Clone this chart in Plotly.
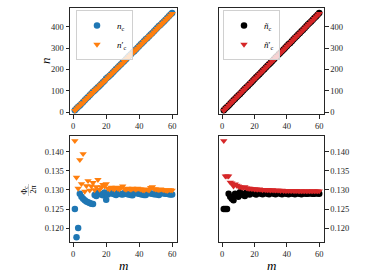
import plotly.graph_objects as go

m = list(range(1, 61))

# n_c and n'_c (left column)
n_c = [8, 17, 25, 31, 39, 47, 55, 63, 71, 79, 87, 95, 101, 109, 116, 124, 132, 140, 147, 157,
       163, 170, 178, 186, 194, 202, 209, 217, 225, 233, 240, 248, 256, 264, 272, 280, 286, 294, 302, 310,
       318, 326, 334, 342, 348, 356, 364, 372, 380, 388, 396, 404, 410, 418, 426, 434, 442, 450, 458, 466]
n_c_p = [7, 15, 23, 29, 38, 43, 54, 61, 68, 77, 84, 91, 100, 107, 113, 123, 130, 137, 145, 152,
         161, 169, 176, 184, 192, 199, 207, 215, 222, 229, 238, 246, 253, 261, 269, 276, 284, 292, 299, 307,
         315, 323, 331, 338, 346, 354, 360, 367, 376, 384, 392, 400, 407, 415, 423, 431, 439, 446, 454, 462]
phi_c = [0.1250, 0.1176, 0.1200, 0.1290, 0.1282, 0.1277, 0.1273, 0.1270, 0.1268, 0.1266,
         0.1264, 0.1263, 0.1287, 0.1284, 0.1293, 0.1290, 0.1288, 0.1286, 0.1293, 0.1274,
         0.1288, 0.1294, 0.1292, 0.1290, 0.1289, 0.1287, 0.1292, 0.1290, 0.1289, 0.1288,
         0.1292, 0.1290, 0.1289, 0.1288, 0.1287, 0.1286, 0.1294, 0.1293, 0.1291, 0.1290,
         0.1289, 0.1288, 0.1287, 0.1287, 0.1293, 0.1292, 0.1291, 0.1290, 0.1289, 0.1289,
         0.1288, 0.1287, 0.1293, 0.1292, 0.1291, 0.1290, 0.1290, 0.1289, 0.1288, 0.1288]
phi_c_p = [0.1429, 0.1333, 0.1304, 0.1379, 0.1316, 0.1395, 0.1296, 0.1311, 0.1324, 0.1299,
           0.1310, 0.1319, 0.1300, 0.1308, 0.1327, 0.1301, 0.1308, 0.1314, 0.1310, 0.1316,
           0.1304, 0.1302, 0.1307, 0.1304, 0.1302, 0.1307, 0.1304, 0.1302, 0.1306, 0.1310,
           0.1303, 0.1301, 0.1304, 0.1303, 0.1301, 0.1304, 0.1303, 0.1301, 0.1304, 0.1303,
           0.1302, 0.1300, 0.1299, 0.1302, 0.1301, 0.1299, 0.1306, 0.1308, 0.1303, 0.1302,
           0.1301, 0.1300, 0.1302, 0.1301, 0.1300, 0.1299, 0.1298, 0.1300, 0.1300, 0.1299]

# tilde n_c and tilde n'_c (right column)
nt_c = [8, 16, 24, 31, 39, 47, 55, 62, 70, 78, 85, 93, 101, 109, 116, 124, 132, 139, 147, 155,
        163, 170, 178, 186, 194, 201, 209, 217, 225, 232, 240, 248, 256, 263, 271, 279, 287, 294, 302, 310,
        318, 325, 333, 341, 349, 356, 364, 372, 380, 387, 395, 403, 411, 418, 426, 434, 442, 449, 457, 465]
nt_c_p = [7, 15, 22, 30, 38, 46, 53, 61, 69, 76, 84, 92, 100, 107, 115, 123, 130, 138, 146, 154,
          161, 169, 177, 184, 192, 200, 208, 215, 223, 231, 239, 246, 254, 262, 269, 277, 285, 292, 300, 308,
          316, 323, 331, 339, 347, 354, 362, 370, 377, 385, 393, 400, 408, 416, 424, 431, 439, 447, 455, 462]
phit_c = [0.1250, 0.1250, 0.1250, 0.1290, 0.1282, 0.1277, 0.1273, 0.1290, 0.1286, 0.1282,
          0.1294, 0.1290, 0.1287, 0.1284, 0.1293, 0.1290, 0.1288, 0.1295, 0.1293, 0.1290,
          0.1288, 0.1294, 0.1292, 0.1290, 0.1289, 0.1294, 0.1292, 0.1290, 0.1289, 0.1293,
          0.1292, 0.1290, 0.1289, 0.1293, 0.1292, 0.1290, 0.1289, 0.1293, 0.1291, 0.1290,
          0.1289, 0.1292, 0.1291, 0.1290, 0.1289, 0.1292, 0.1291, 0.1290, 0.1289, 0.1292,
          0.1291, 0.1290, 0.1290, 0.1292, 0.1291, 0.1290, 0.1290, 0.1292, 0.1291, 0.1290]
phit_c_p = [0.1429, 0.1336, 0.1336, 0.1336, 0.1320, 0.1318, 0.1310, 0.1315, 0.1312, 0.1310,
            0.1308, 0.1307, 0.1306, 0.1308, 0.1305, 0.1304, 0.1304, 0.1303, 0.1303, 0.1302,
            0.1302, 0.1301, 0.1302, 0.1301, 0.1300, 0.1301, 0.1300, 0.1300, 0.1300, 0.1299,
            0.1300, 0.1299, 0.1299, 0.1299, 0.1299, 0.1298, 0.1299, 0.1298, 0.1298, 0.1298,
            0.1298, 0.1298, 0.1298, 0.1298, 0.1297, 0.1298, 0.1297, 0.1297, 0.1297, 0.1297,
            0.1297, 0.1297, 0.1297, 0.1297, 0.1297, 0.1297, 0.1297, 0.1297, 0.1297, 0.1297]

W, H = 374, 280
FONT = "Liberation Serif"
BLUE, ORANGE, BLACK, RED = "#1f77b4", "#ff7f0e", "#000000", "#d62728"

def px(x):
    return x / W

def py(y):
    return 1 - y / H

fig = go.Figure()

ms = 6.5
fig.add_trace(go.Scatter(x=m, y=n_c, mode="markers", name="<i>n</i><sub>c</sub>",
                         marker=dict(color=BLUE, size=ms, symbol="circle"), xaxis="x", yaxis="y", legend="legend"))
fig.add_trace(go.Scatter(x=m, y=n_c_p, mode="markers", name="<i>n</i>′<sub>c</sub>",
                         marker=dict(color=ORANGE, size=ms, symbol="triangle-down"), xaxis="x", yaxis="y", legend="legend"))
fig.add_trace(go.Scatter(x=m, y=nt_c, mode="markers", name="<i>ñ</i><sub>c</sub>",
                         marker=dict(color=BLACK, size=ms, symbol="circle"), xaxis="x2", yaxis="y2", legend="legend2"))
fig.add_trace(go.Scatter(x=m, y=nt_c_p, mode="markers", name="<i>ñ</i>′<sub>c</sub>",
                         marker=dict(color=RED, size=ms, symbol="triangle-down"), xaxis="x2", yaxis="y2", legend="legend2"))
fig.add_trace(go.Scatter(x=m, y=phi_c, mode="markers", showlegend=False,
                         marker=dict(color=BLUE, size=ms, symbol="circle"), xaxis="x3", yaxis="y3"))
fig.add_trace(go.Scatter(x=m, y=phi_c_p, mode="markers", showlegend=False,
                         marker=dict(color=ORANGE, size=ms, symbol="triangle-down"), xaxis="x3", yaxis="y3"))
fig.add_trace(go.Scatter(x=m, y=phit_c, mode="markers", showlegend=False,
                         marker=dict(color=BLACK, size=ms, symbol="circle"), xaxis="x4", yaxis="y4"))
fig.add_trace(go.Scatter(x=m, y=phit_c_p, mode="markers", showlegend=False,
                         marker=dict(color=RED, size=ms, symbol="triangle-down"), xaxis="x4", yaxis="y4"))

ax = dict(showline=True, linecolor="#262626", linewidth=1, mirror=True, showgrid=False, zeroline=False,
          automargin=False, ticks="outside", ticklen=3.5, tickwidth=0.8, tickcolor="#262626",
          tickfont=dict(family=FONT, size=8.5, color="#262626"))

xr = [-1.95, 62.95]
xl = [px(70), px(177)]
xrt = [px(219), px(324)]
ytop = [py(114), py(8)]
ybot = [py(242), py(136)]
rn = [-9.4, 489]
rp = [0.11634, 0.14416]

leg = dict(yanchor="top", xanchor="left", bgcolor="rgba(255,255,255,0.8)",
           bordercolor="#d0d0d0", borderwidth=1, font=dict(family=FONT, size=9, color="#000000"),
           itemwidth=30, tracegroupgap=0)

fig.update_layout(
    template="simple_white",
    width=W, height=H, margin=dict(l=0, r=0, t=0, b=0, autoexpand=False),
    paper_bgcolor="white", plot_bgcolor="white",
    xaxis=dict(ax, domain=xl, range=xr, tickvals=[0, 20, 40, 60], anchor="y"),
    yaxis=dict(ax, domain=ytop, range=rn, tickvals=[0, 100, 200, 300, 400], anchor="x"),
    xaxis2=dict(ax, domain=xrt, range=xr, tickvals=[0, 20, 40, 60], anchor="y2"),
    yaxis2=dict(ax, domain=ytop, range=rn, tickvals=[0, 100, 200, 300, 400], anchor="x2", side="right"),
    xaxis3=dict(ax, domain=xl, range=xr, tickvals=[0, 20, 40, 60], anchor="y3"),
    yaxis3=dict(ax, domain=ybot, range=rp, tickvals=[0.120, 0.125, 0.130, 0.135, 0.140],
                tickformat=".3f", anchor="x3"),
    xaxis4=dict(ax, domain=xrt, range=xr, tickvals=[0, 20, 40, 60], anchor="y4"),
    yaxis4=dict(ax, domain=ybot, range=rp, tickvals=[0.120, 0.125, 0.130, 0.135, 0.140],
                tickformat=".3f", anchor="x4", side="right"),
    legend=dict(leg, x=px(76), y=py(10)),
    legend2=dict(leg, x=px(223), y=py(10)),
)

def A(x, y, text, size, angle=0):
    return dict(x=px(x), y=py(y), xref="paper", yref="paper", text=text, showarrow=False,
                xanchor="center", yanchor="middle", textangle=angle,
                font=dict(family=FONT, size=size, color="black"))

ann = [
    A(45, 61, "<i>n</i>", 13, -90),
    A(24.5, 190, "Φ<sub>c</sub>", 8, -90),
    A(32.5, 190, "2π", 8, -90),
    A(123.5, 265, "<i>m</i>", 13),
    A(271.5, 265, "<i>m</i>", 13),
]
fig.update_layout(annotations=ann)
fig.add_shape(type="line", xref="paper", yref="paper", x0=px(28.5), x1=px(28.5), y0=py(184), y1=py(196),
              line=dict(color="black", width=0.7))

fig.write_html("out.html", config={"displayModeBar": False},
               post_script="document.body.style.margin='0px';document.body.style.overflow='hidden';")
